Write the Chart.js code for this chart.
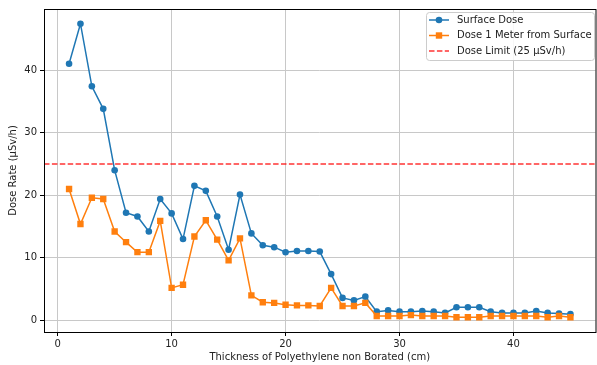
<!DOCTYPE html>
<html>
<head>
<meta charset="utf-8">
<script src="https://cdn.jsdelivr.net/npm/chart.js@4"></script>
<style>
  html, body { margin: 0; padding: 0; background: #fff; overflow: hidden; }
  #wrap { width: 600px; height: 365px; }
</style>
</head>
<body>
<div id="wrap"><canvas id="chart" width="600" height="365"></canvas></div>
<script>
// толщина полиэтилена, см
const thickness = [1, 2, 3, 4, 5, 6, 7, 8, 9, 10, 11, 12, 13, 14, 15, 16, 17, 18, 19, 20,
  21, 22, 23, 24, 25, 26, 27, 28, 29, 30, 31, 32, 33, 34, 35, 36, 37, 38, 39, 40,
  41, 42, 43, 44, 45];
const surfaceDose = [41.0, 47.4, 37.4, 33.8, 24.0, 17.2, 16.6, 14.2, 19.4, 17.1,
  13.0, 21.5, 20.7, 16.6, 11.3, 20.1, 13.9, 12.0, 11.7, 10.9,
  11.1, 11.1, 11.0, 7.4, 3.6, 3.2, 3.8, 1.4, 1.6, 1.4,
  1.4, 1.5, 1.4, 1.2, 2.1, 2.1, 2.1, 1.4, 1.2, 1.2,
  1.2, 1.5, 1.2, 1.1, 1.0];
const meterDose = [21.0, 15.4, 19.6, 19.4, 14.2, 12.5, 10.9, 10.9, 15.9, 5.2,
  5.7, 13.4, 16.0, 12.9, 9.6, 13.1, 4.0, 2.9, 2.8, 2.5,
  2.4, 2.4, 2.3, 5.2, 2.3, 2.3, 2.8, 0.7, 0.7, 0.7,
  0.85, 0.7, 0.7, 0.7, 0.5, 0.5, 0.5, 0.7, 0.7, 0.7,
  0.7, 0.7, 0.5, 0.7, 0.5];
const doseLimit = 25;
const xTicks = [0, 10, 20, 30, 40];
const yTicks = [0, 10, 20, 30, 40];

const FONT = 'DejaVu Sans';
const BLUE = '#1f77b4';
const ORANGE = '#ff7f0e';
const RED = 'rgba(255, 0, 0, 0.8)';

const toPoints = vals => vals.map((v, i) => ({ x: thickness[i], y: v }));

// рамка осей и легенда в стиле matplotlib
const framePlugin = {
  id: 'frame',
  afterDraw(chart) {
    const { ctx, chartArea: a } = chart;
    ctx.save();
    ctx.strokeStyle = '#000';
    ctx.lineWidth = 1;
    ctx.strokeRect(a.left + 0.5, a.top + 0.5, a.right - a.left, a.bottom - a.top);

    // легенда
    const bx = 426, by = 12, bw = 168, bh = 48;
    ctx.fillStyle = 'rgba(255,255,255,0.85)';
    ctx.strokeStyle = '#cccccc';
    ctx.beginPath();
    ctx.roundRect(bx + 0.5, by + 0.5, bw, bh, 3);
    ctx.fill();
    ctx.stroke();

    const items = [
      { label: 'Surface Dose', color: BLUE, marker: 'circle', dash: [] },
      { label: 'Dose 1 Meter from Surface', color: ORANGE, marker: 'square', dash: [] },
      { label: 'Dose Limit (25 µSv/h)', color: RED, marker: null, dash: [5.5, 2.4] }
    ];
    ctx.font = '10px ' + FONT;
    ctx.textBaseline = 'middle';
    items.forEach((it, i) => {
      const y = by + 8 + i * 15.5;
      ctx.strokeStyle = it.color;
      ctx.lineWidth = 1.5;
      ctx.setLineDash(it.dash);
      ctx.beginPath();
      ctx.moveTo(429, y);
      ctx.lineTo(449, y);
      ctx.stroke();
      ctx.setLineDash([]);
      ctx.fillStyle = it.color;
      if (it.marker === 'circle') {
        ctx.beginPath();
        ctx.arc(439, y, 3.3, 0, Math.PI * 2);
        ctx.fill();
      } else if (it.marker === 'square') {
        ctx.fillRect(435.8, y - 3.2, 6.4, 6.4);
      }
      ctx.fillStyle = '#222';
      ctx.fillText(it.label, 457, y);
    });
    ctx.restore();
  }
};

new Chart(document.getElementById('chart'), {
  type: 'line',
  data: {
    datasets: [
      {
        label: 'Surface Dose',
        data: toPoints(surfaceDose),
        borderColor: BLUE,
        backgroundColor: BLUE,
        borderWidth: 1.5,
        pointStyle: 'circle',
        pointRadius: 3.3,
        pointBorderWidth: 0,
        order: 3
      },
      {
        label: 'Dose 1 Meter from Surface',
        data: toPoints(meterDose),
        borderColor: ORANGE,
        backgroundColor: ORANGE,
        borderWidth: 1.5,
        pointStyle: 'rect',
        pointRadius: 4.5,
        pointBorderWidth: 0,
        order: 2
      },
      {
        label: 'Dose Limit (25 µSv/h)',
        data: [{ x: -1.2, y: doseLimit }, { x: 47.2, y: doseLimit }],
        borderColor: RED,
        borderWidth: 1.5,
        borderDash: [5.5, 2.4],
        pointRadius: 0,
        order: 1
      }
    ]
  },
  options: {
    responsive: false,
    animation: false,
    devicePixelRatio: 1,
    layout: { padding: { top: 7, right: 0, bottom: 0, left: 0 } },
    plugins: {
      legend: { display: false },
      tooltip: { enabled: false }
    },
    scales: {
      x: {
        type: 'linear',
        min: -1.2,
        max: 47.2,
        afterBuildTicks: s => { s.ticks = xTicks.map(v => ({ value: v })); },
        afterFit: s => { s.height = 33; },
        border: { display: false },
        grid: { color: '#c8c8c8', lineWidth: 1, tickLength: 4, tickColor: '#000' },
        ticks: { color: '#222', font: { family: FONT, size: 10 }, padding: 2, maxRotation: 0 },
        title: {
          display: true,
          text: 'Thickness of Polyethylene non Borated (cm)',
          color: '#222',
          font: { family: FONT, size: 10 },
          padding: { top: 0, bottom: 2 }
        }
      },
      y: {
        min: -1.85,
        max: 49.75,
        afterBuildTicks: s => { s.ticks = yTicks.map(v => ({ value: v })); },
        afterFit: s => { s.width = 44; },
        border: { display: false },
        grid: { color: '#c8c8c8', lineWidth: 1, tickLength: 4, tickColor: '#000' },
        ticks: { color: '#222', font: { family: FONT, size: 10 }, padding: 3 },
        title: {
          display: true,
          text: 'Dose Rate (µSv/h)',
          color: '#222',
          font: { family: FONT, size: 10 },
          padding: { top: 7, bottom: 0 }
        }
      }
    }
  },
  plugins: [framePlugin]
});
</script>
</body>
</html>
